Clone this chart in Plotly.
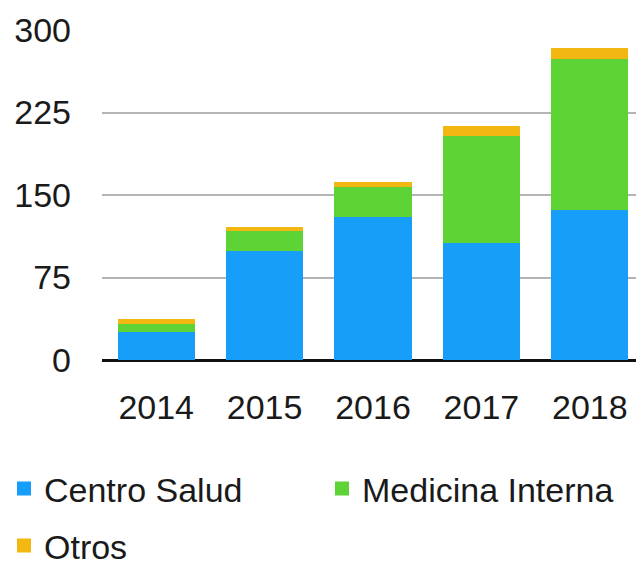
import plotly.graph_objects as go

years = ["2014", "2015", "2016", "2017", "2018"]
centro_salud = [26, 100, 131, 107, 137]
medicina_interna = [8, 18, 27, 98, 138]
otros = [2, 2, 3, 7, 8]
y_ticks = [0, 75, 150, 225, 300]

series = [
    ("Centro Salud", centro_salud, "#169ef8", "legend"),
    ("Medicina Interna", medicina_interna, "#5ed335", "legend2"),
    ("Otros", otros, "#f3b712", "legend3"),
]

FONT = "Liberation Sans, Arial, Helvetica, sans-serif"
FS = 34

fig = go.Figure()
for name, vals, color, leg in series:
    fig.add_trace(go.Bar(
        x=years, y=vals, name=name,
        marker=dict(color=color, line=dict(color=color, width=2)),
        legend=leg, showlegend=True,
    ))

leg_common = dict(
    visible=True,
    orientation="h", bgcolor="rgba(0,0,0,0)", borderwidth=0,
    font=dict(family=FONT, size=FS, color="#1a1a1a"),
    yanchor="middle", xanchor="left",
)

# page body has an 8px margin, so the figure is 636x558 with the plot area
# starting at 94,22 inside it (102,30 on the page)
fig.update_layout(
    width=636, height=558,
    margin=dict(l=94, r=0, t=22, b=206, autoexpand=False),
    barmode="stack", bargap=0.305,
    showlegend=True,
    plot_bgcolor="white", paper_bgcolor="white",
    font=dict(family=FONT, size=FS, color="#1a1a1a"),
    legend=dict(x=(4 - 102) / 542, y=(360 - 489) / 330, **leg_common),
    legend2=dict(x=(322 - 102) / 542, y=(360 - 489) / 330, **leg_common),
    legend3=dict(x=(4 - 102) / 542, y=(360 - 546) / 330, **leg_common),
    xaxis=dict(
        showgrid=False, showline=False, ticks="", automargin=False,
        tickfont=dict(family=FONT, size=FS, color="#1a1a1a"),
        ticklabelstandoff=24,
    ),
    yaxis=dict(
        range=[0, 300], tickvals=y_ticks, automargin=False,
        showgrid=True, gridcolor="#b4b4b4", gridwidth=2,
        zeroline=True, zerolinecolor="#111111", zerolinewidth=3,
        showline=False, ticks="",
        tickfont=dict(family=FONT, size=FS, color="#1a1a1a"),
        ticklabelstandoff=30,
    ),
)

fig.write_html("out.html")
